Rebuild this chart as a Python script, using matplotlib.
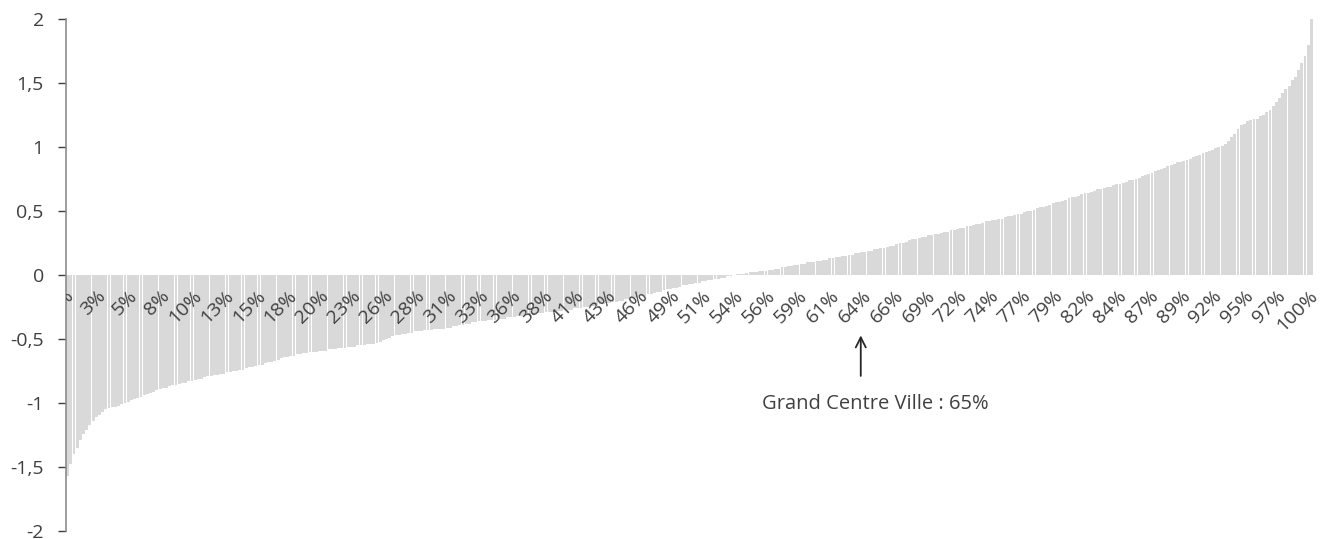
import matplotlib
matplotlib.use("Agg")
import matplotlib.pyplot as plt

# indice trié, une barre par zone
values = [
    -1.57, -1.48, -1.40, -1.35, -1.29, -1.24, -1.21, -1.17, -1.14, -1.11,
    -1.09, -1.07, -1.05, -1.04, -1.03, -1.03, -1.02, -1.01, -1.00, -0.99,
    -0.98, -0.97, -0.96, -0.95, -0.94, -0.93, -0.92, -0.91, -0.90, -0.89,
    -0.88, -0.88, -0.87, -0.86, -0.86, -0.85, -0.84, -0.84, -0.83, -0.83,
    -0.82, -0.81, -0.81, -0.80, -0.79, -0.79, -0.78, -0.78, -0.77, -0.77,
    -0.76, -0.76, -0.75, -0.75, -0.74, -0.74, -0.73, -0.72, -0.72, -0.71,
    -0.70, -0.70, -0.69, -0.68, -0.68, -0.67, -0.66, -0.65, -0.64, -0.64,
    -0.63, -0.63, -0.62, -0.62, -0.61, -0.61, -0.60, -0.60, -0.60, -0.59,
    -0.59, -0.59, -0.58, -0.58, -0.58, -0.57, -0.57, -0.57, -0.56, -0.56,
    -0.56, -0.55, -0.55, -0.55, -0.54, -0.54, -0.54, -0.53, -0.52, -0.51,
    -0.50, -0.49, -0.48, -0.47, -0.47, -0.46, -0.46, -0.45, -0.45, -0.44,
    -0.44, -0.44, -0.43, -0.43, -0.43, -0.42, -0.42, -0.42, -0.42, -0.41,
    -0.41, -0.40, -0.40, -0.39, -0.39, -0.38, -0.38, -0.37, -0.37, -0.36,
    -0.36, -0.36, -0.35, -0.35, -0.35, -0.34, -0.34, -0.34, -0.33, -0.33,
    -0.33, -0.32, -0.32, -0.32, -0.31, -0.31, -0.31, -0.30, -0.30, -0.30,
    -0.29, -0.29, -0.29, -0.28, -0.28, -0.28, -0.27, -0.27, -0.27, -0.26,
    -0.26, -0.26, -0.25, -0.25, -0.24, -0.24, -0.24, -0.23, -0.23, -0.22,
    -0.22, -0.21, -0.21, -0.20, -0.20, -0.19, -0.19, -0.18, -0.18, -0.17,
    -0.16, -0.16, -0.15, -0.15, -0.14, -0.13, -0.13, -0.12, -0.11, -0.11,
    -0.10, -0.10, -0.09, -0.08, -0.08, -0.07, -0.07, -0.06, -0.06, -0.05,
    -0.05, -0.04, -0.04, -0.03, -0.03, -0.02, -0.02, -0.01, -0.005, 0.00,
    0.005, 0.01, 0.01, 0.015, 0.02, 0.02, 0.025, 0.03, 0.03, 0.035,
    0.04, 0.04, 0.05, 0.05, 0.06, 0.06, 0.07, 0.07, 0.08, 0.08,
    0.09, 0.09, 0.10, 0.10, 0.10, 0.11, 0.11, 0.12, 0.12, 0.13,
    0.13, 0.14, 0.14, 0.15, 0.15, 0.16, 0.16, 0.17, 0.17, 0.18,
    0.18, 0.19, 0.19, 0.20, 0.20, 0.21, 0.21, 0.22, 0.23, 0.23,
    0.24, 0.25, 0.25, 0.26, 0.27, 0.28, 0.28, 0.29, 0.30, 0.30,
    0.31, 0.31, 0.32, 0.32, 0.33, 0.34, 0.34, 0.35, 0.35, 0.36,
    0.37, 0.37, 0.38, 0.38, 0.39, 0.40, 0.40, 0.41, 0.42, 0.42,
    0.43, 0.43, 0.44, 0.44, 0.45, 0.46, 0.46, 0.47, 0.48, 0.48,
    0.49, 0.50, 0.50, 0.51, 0.52, 0.53, 0.53, 0.54, 0.55, 0.56,
    0.57, 0.57, 0.58, 0.59, 0.60, 0.61, 0.61, 0.62, 0.63, 0.64,
    0.64, 0.65, 0.66, 0.67, 0.67, 0.68, 0.69, 0.69, 0.70, 0.71,
    0.71, 0.72, 0.73, 0.74, 0.74, 0.75, 0.76, 0.77, 0.78, 0.79,
    0.80, 0.81, 0.82, 0.83, 0.84, 0.85, 0.86, 0.87, 0.88, 0.88,
    0.89, 0.90, 0.91, 0.92, 0.93, 0.94, 0.95, 0.96, 0.97, 0.98,
    0.99, 1.00, 1.01, 1.02, 1.05, 1.08, 1.10, 1.14, 1.17, 1.18,
    1.20, 1.21, 1.22, 1.22, 1.24, 1.25, 1.27, 1.29, 1.32, 1.35,
    1.38, 1.42, 1.45, 1.48, 1.52, 1.55, 1.60, 1.66, 1.71, 1.80,
    2.00,
]

# une étiquette toutes les 10 barres
pct_labels = ['0%', '3%', '5%', '8%', '10%', '13%', '15%', '18%', '20%', '23%',
              '26%', '28%', '31%', '33%', '36%', '38%', '41%', '43%', '46%', '49%',
              '51%', '54%', '56%', '59%', '61%', '64%', '66%', '69%', '72%', '74%',
              '77%', '79%', '82%', '84%', '87%', '89%', '92%', '95%', '97%', '100%']
label_step = 10

y_ticks = [-2, -1.5, -1, -0.5, 0, 0.5, 1, 1.5, 2]
y_ticklabels = ['-2', '-1,5', '-1', '-0,5', '0', '0,5', '1', '1,5', '2']

highlight_pos = 248.7
highlight_text = 'Grand Centre Ville : 65%'

plt.rcParams['font.family'] = ['Open Sans', 'DejaVu Sans']
text_color = '#404040'

fig = plt.figure(figsize=(13.28, 5.39), dpi=100)
ax = fig.add_axes([0.0497, 0.0148, 0.9390, 0.9499])

x = list(range(len(values)))
ax.bar(x, values, width=0.9, color='#d9d9d9', linewidth=0)

ax.set_xlim(-0.5, len(values) - 0.5)
ax.set_ylim(-2, 2)

ax.set_yticks(y_ticks)
ax.set_yticklabels(y_ticklabels)
ax.tick_params(axis='y', direction='out', length=6, width=1, color='#404040',
               labelsize=14, labelcolor=text_color, pad=10)

# étiquettes de catégories (axe horizontal à 0, sans trait)
ax.set_xticks([])
for k, lab in enumerate(pct_labels):
    t = ax.annotate(lab, xy=(x[k * label_step], 0), xytext=(2.5, -13),
                    textcoords='offset points', rotation=45,
                    rotation_mode='anchor', ha='right', va='center',
                    fontsize=14, color=text_color, annotation_clip=False)
    if k == 0:
        # la première étiquette est coupée par l'axe
        t.set_clip_box(ax.bbox)
        t.set_clip_on(True)

ax.spines['bottom'].set_visible(False)
ax.spines['top'].set_visible(False)
ax.spines['right'].set_visible(False)
ax.spines['left'].set_color('#8c8c8c')
ax.spines['left'].set_linewidth(1.2)

ax.annotate('', xy=(highlight_pos, -0.45), xytext=(highlight_pos, -0.81),
            arrowprops=dict(arrowstyle='->', color='#262626', lw=1.3,
                            mutation_scale=18))
ax.text(highlight_pos + 4.7, -1.01, highlight_text, ha='center', va='center',
        fontsize=14.5, color=text_color)

plt.savefig('out.png', dpi=100)
